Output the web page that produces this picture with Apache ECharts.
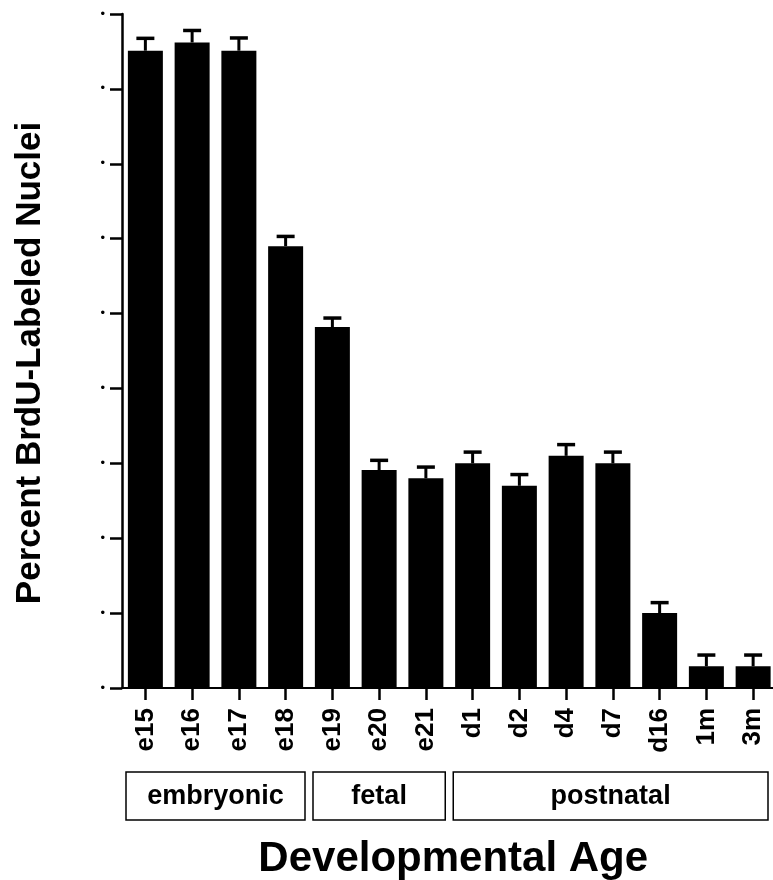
<!DOCTYPE html>
<html>
<head>
<meta charset="utf-8">
<script src="https://cdn.jsdelivr.net/npm/echarts@6/dist/echarts.min.js"></script>
<style>html,body{margin:0;padding:0;background:#fff}#c{width:773px;height:880px}</style>
</head>
<body>
<div id="c"></div>
<script>
const categories = ['e15','e16','e17','e18','e19','e20','e21','d1','d2','d4','d7','d16','1m','3m'];
const values = [85.1, 86.2, 85.1, 59.0, 48.2, 29.1, 28.0, 30.0, 27.0, 31.0, 30.0, 10.0, 2.9, 2.9];
const errors = [1.65, 1.6, 1.7, 1.3, 1.2, 1.3, 1.5, 1.5, 1.5, 1.5, 1.5, 1.4, 1.5, 1.5];
const yTickLabels = ['•','•','•','•','•','•','•','•','•','•'];
const groups = [
  {name: 'embryonic', from: 'e15', to: 'e18'},
  {name: 'fetal', from: 'e19', to: 'e21'},
  {name: 'postnatal', from: 'd1', to: '3m'}
];
const yTitle = 'Percent BrdU-Labeled Nuclei';
const xTitle = 'Developmental Age';

const FONT = '"Liberation Sans", Arial, Helvetica, sans-serif';
const chart = echarts.init(document.getElementById('c'), null, {renderer: 'canvas'});

const gridLeft = 122, gridTop = 14, gridBottom = 192, gridWidth = 654.5;

chart.setOption({
  animation: false,
  backgroundColor: '#fff',
  grid: {left: gridLeft, top: gridTop, bottom: gridBottom, width: gridWidth, containLabel: false, outerBoundsMode: 'none'},
  xAxis: {
    type: 'category',
    data: categories,
    boundaryGap: true,
    axisLine: {show: true, lineStyle: {color: '#000', width: 2}},
    axisTick: {show: true, alignWithLabel: true, length: 12, lineStyle: {color: '#000', width: 2.5}},
    axisLabel: {rotate: 90, margin: 20, color: '#000', fontFamily: FONT, fontWeight: 'bold', fontSize: 26, interval: 0},
    name: xTitle,
    nameLocation: 'middle',
    nameGap: 150,
    nameTextStyle: {color: '#000', fontFamily: FONT, fontWeight: 'bold', fontSize: 42, padding: [0, 0, 0, 8]}
  },
  yAxis: {
    type: 'value',
    min: 0, max: 90, interval: 10,
    splitLine: {show: false},
    axisLine: {show: true, lineStyle: {color: '#000', width: 2.5}},
    axisTick: {show: true, length: 12, lineStyle: {color: '#000', width: 2.5}},
    axisLabel: {
      color: '#000', fontSize: 13, margin: 17, fontFamily: FONT,
      formatter: (v) => yTickLabels[Math.round(v / 10)]
    },
    name: yTitle,
    nameLocation: 'middle',
    nameRotate: 90,
    nameGap: 74,
    nameTextStyle: {color: '#000', fontFamily: FONT, fontWeight: 'bold', fontSize: 35, padding: [0, 24, 0, 0]}
  },
  series: [
    {
      type: 'bar',
      data: values,
      barWidth: 35,
      itemStyle: {color: '#000'},
      z: 2
    },
    {
      type: 'custom',
      z: 3,
      data: values.map((v, i) => [i, v, errors[i]]),
      renderItem: function (params, api) {
        const x = api.value(0), v = api.value(1), e = api.value(2);
        const base = api.coord([x, v]);
        const hi = api.coord([x, v + e]);
        const half = 9;
        return {
          type: 'group',
          children: [
            {type: 'line', shape: {x1: base[0], y1: base[1], x2: hi[0], y2: hi[1]}, style: {stroke: '#000', lineWidth: 3}},
            {type: 'line', shape: {x1: hi[0] - half, y1: hi[1], x2: hi[0] + half, y2: hi[1]}, style: {stroke: '#000', lineWidth: 3.5}}
          ]
        };
      }
    }
  ]
});

function drawGroups() {
  const band = chart.convertToPixel({xAxisIndex: 0}, categories[1]) - chart.convertToPixel({xAxisIndex: 0}, categories[0]);
  const W = chart.getWidth();
  const boxTop = 772, boxH = 48;
  const elems = [];
  groups.forEach((g) => {
    let l = chart.convertToPixel({xAxisIndex: 0}, g.from) - band / 2 + 4;
    let r = chart.convertToPixel({xAxisIndex: 0}, g.to) + band / 2 - 4;
    r = Math.min(r, W - 5);
    elems.push({
      type: 'rect',
      shape: {x: l, y: boxTop, width: r - l, height: boxH},
      style: {fill: 'none', stroke: '#000', lineWidth: 1.5}
    });
    elems.push({
      type: 'text',
      x: (l + r) / 2, y: boxTop + boxH / 2 + 1,
      style: {text: g.name, fill: '#000', font: 'bold 27px ' + FONT, align: 'center', verticalAlign: 'middle'}
    });
  });
  chart.setOption({graphic: elems});
}
drawGroups();
</script>
</body>
</html>
